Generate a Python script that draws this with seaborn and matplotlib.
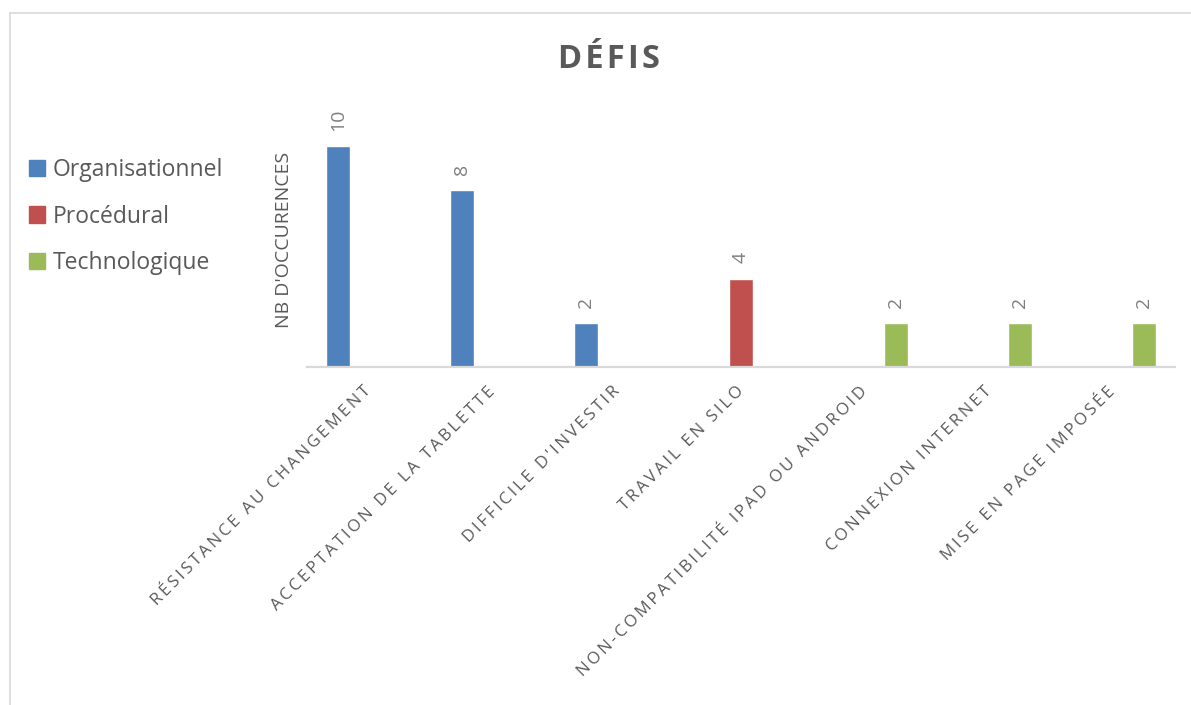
import pandas as pd
import seaborn as sns
import matplotlib.pyplot as plt
from matplotlib.patches import Patch
from matplotlib.lines import Line2D

# Données du graphique
defis = ["RÉSISTANCE AU CHANGEMENT", "ACCEPTATION DE LA TABLETTE", "DIFFICILE D'INVESTIR",
         "TRAVAIL EN SILO", "NON-COMPATIBILITÉ IPAD OU ANDROID", "CONNEXION INTERNET",
         "MISE EN PAGE IMPOSÉE"]
occurences = [10, 8, 2, 4, 2, 2, 2]
types_defi = ["Organisationnel", "Organisationnel", "Organisationnel", "Procédural",
              "Technologique", "Technologique", "Technologique"]
categories = ["Organisationnel", "Procédural", "Technologique"]
couleurs = ["#4f81bd", "#c0504d", "#9bbb59"]

GRIS_TEXTE = "#595959"
GRIS_LIGNE = "#d9d9d9"


# Espacement des lettres (imitation du style Excel)
def espacer(texte, sep="\u2009"):
    return sep.join(texte)


sns.set_style("white")
plt.rcParams['font.family'] = ['Open Sans', 'DejaVu Sans']

df = pd.DataFrame({'defi': defis, 'n': occurences, 'type': types_defi})

fig = plt.figure(figsize=(11.91, 7.05), dpi=100)
ax = fig.add_axes([307 / 1191, 338 / 705, 868 / 1191, 265 / 705])

sns.barplot(data=df, x='defi', y='n', hue='type', order=defis, hue_order=categories,
            palette=couleurs, saturation=1, width=0.75, gap=0.2, dodge=True,
            legend=False, ax=ax)

ax.set_xlim(-0.5, 6.5)
ax.set_ylim(0, 12)

# Étiquettes de valeurs
for cont in ax.containers:
    ax.bar_label(cont, rotation=90, padding=11, fontsize=14, color="#7f7f7f")

# Axes
for cote in ['top', 'right', 'left']:
    ax.spines[cote].set_visible(False)
ax.spines['bottom'].set_color(GRIS_LIGNE)
ax.spines['bottom'].set_linewidth(1.6)
ax.set_yticks([])
ax.set_xticks(range(len(defis)))
ax.set_xticklabels([espacer(d) for d in defis], rotation=45, ha='right', va='center',
                   rotation_mode='anchor', fontsize=12.1, color=GRIS_TEXTE)
ax.tick_params(axis='x', length=0, pad=16)
ax.set_xlabel('')
ax.set_ylabel("NB D'OCCURENCES", fontsize=14, color=GRIS_TEXTE)
ax.yaxis.set_label_coords(-0.016, 0.479)

# Titre
fig.text(609 / 1191, 1 - 60 / 705, espacer("DÉFIS", "\u200a"), ha='center', va='center',
         fontsize=23.5, fontweight='bold', color=GRIS_TEXTE)

# Légende à gauche
poignees = [Patch(facecolor=c, edgecolor=c) for c in couleurs]
ax.legend(poignees, categories, loc='upper left', bbox_to_anchor=(8 / 1191, 1 - 137 / 705),
          bbox_transform=fig.transFigure, frameon=False, fontsize=16.5,
          handlelength=0.7, handleheight=0.7, handletextpad=0.35, labelspacing=1.0,
          labelcolor=GRIS_TEXTE)

# Cadre du graphique
fig.add_artist(Line2D([10 / 1191, 10 / 1191], [0, 1 - 13 / 705], color=GRIS_LIGNE, lw=1.2))
fig.add_artist(Line2D([10 / 1191, 1], [1 - 13 / 705, 1 - 13 / 705], color=GRIS_LIGNE, lw=1.2))

plt.savefig('out.png', dpi=100)
plt.close()
